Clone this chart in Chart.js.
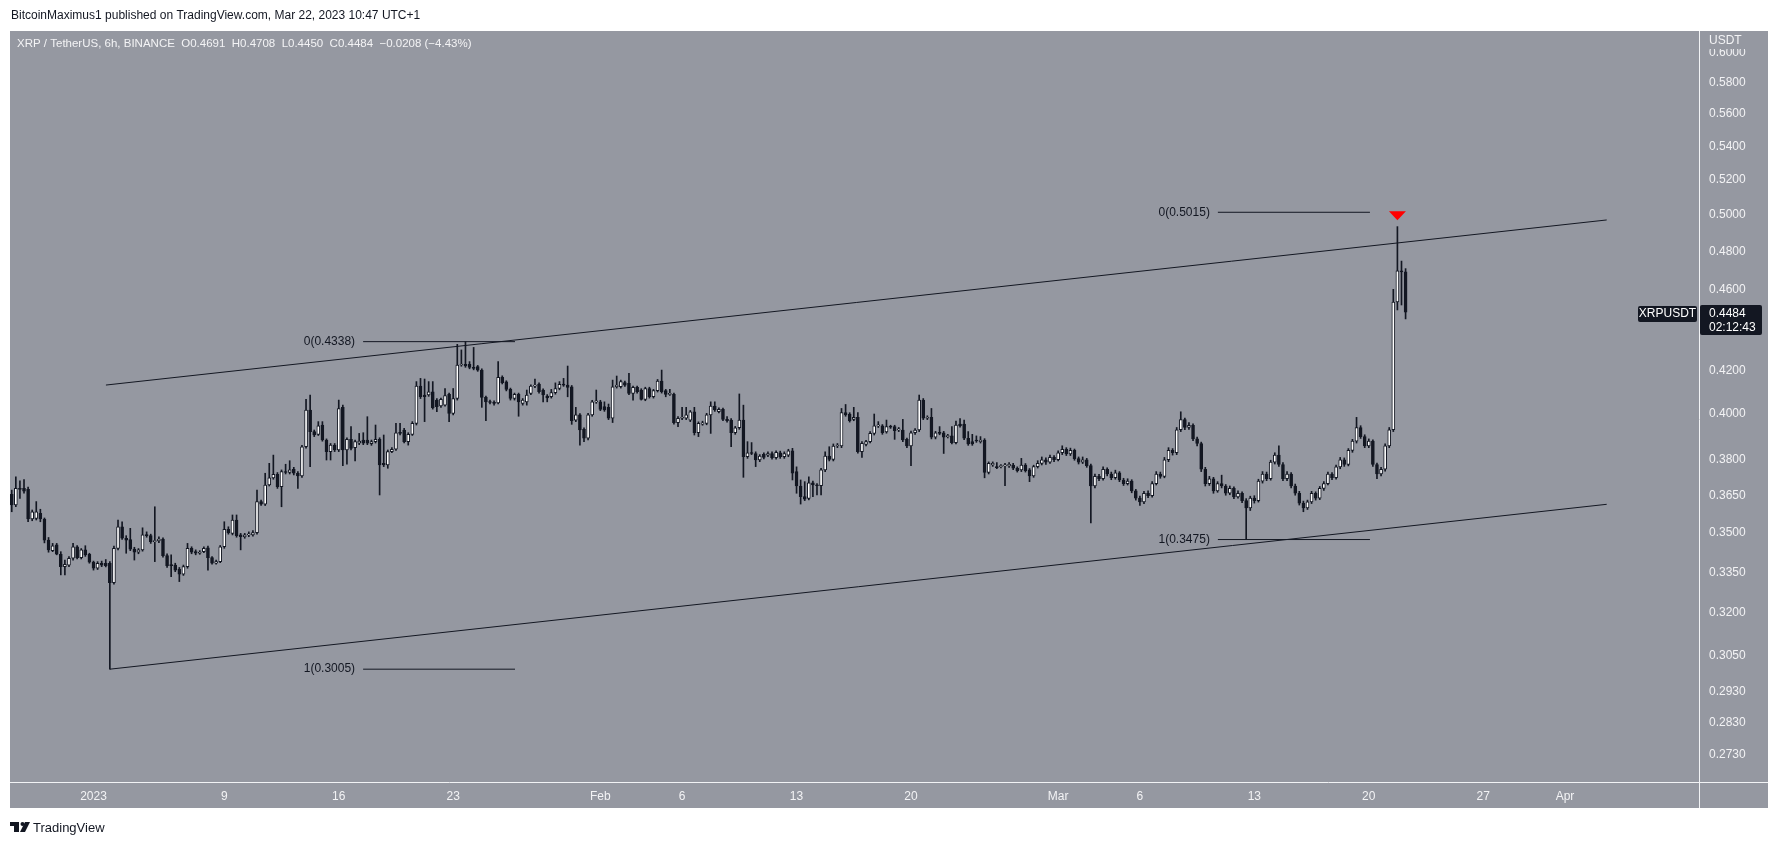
<!DOCTYPE html>
<html>
<head>
<meta charset="utf-8">
<script src="https://cdn.jsdelivr.net/npm/chart.js@4.4.0/dist/chart.umd.min.js"></script>
<style>
html,body{margin:0;padding:0;background:#fff;}
canvas{display:block;}
</style>
</head>
<body>
<canvas id="chart" width="1777" height="845"></canvas>
<script>
// XRP / TetherUS 6h candles, first bar opens Dec 27 2022 00:00 (day -5 counted from Jan 1)
var firstBarDay = -5;
var barDays = 0.25;

var opens = [
  0.3656,0.3612,0.3680,0.3680,0.3676,0.3556,0.3558,0.3579,0.3556,0.3473,
  0.3432,0.3454,0.3418,0.3371,0.3377,0.3403,0.3447,0.3405,0.3435,0.3418,
  0.3388,0.3365,0.3384,0.3384,0.3384,0.3311,0.3441,0.3525,0.3480,0.3475,
  0.3438,0.3426,0.3435,0.3493,0.3490,0.3467,0.3470,0.3477,0.3413,0.3377,
  0.3377,0.3362,0.3343,0.3371,0.3441,0.3428,0.3422,0.3428,0.3443,0.3405,
  0.3384,0.3390,0.3447,0.3515,0.3499,0.3552,0.3493,0.3486,0.3493,0.3493,
  0.3502,0.3626,0.3616,0.3694,0.3724,0.3739,0.3687,0.3750,0.3746,0.3760,
  0.3743,0.3732,0.3856,0.4018,0.3922,0.3910,0.3951,0.3885,0.3835,0.3863,
  0.3842,0.4030,0.3842,0.3888,0.3852,0.3871,0.3885,0.3885,0.3869,0.3878,
  0.3888,0.3785,0.3778,0.3835,0.3845,0.3917,0.3929,0.3878,0.3910,0.3958,
  0.4127,0.4086,0.4086,0.4101,0.4063,0.4036,0.4040,0.4089,0.4003,0.4070,
  0.4226,0.4229,0.4229,0.4215,0.4218,0.4202,0.4075,0.4055,0.4052,0.4050,
  0.4168,0.4147,0.4112,0.4070,0.4089,0.4048,0.4055,0.4094,0.4127,0.4136,
  0.4109,0.4081,0.4078,0.4097,0.4116,0.4135,0.4132,0.4124,0.3973,0.3996,
  0.3932,0.3893,0.3996,0.4055,0.4055,0.4033,0.4030,0.3981,0.4124,0.4124,
  0.4143,0.4140,0.4094,0.4121,0.4109,0.4066,0.4116,0.4078,0.4106,0.4151,
  0.4106,0.4089,0.4089,0.3961,0.3981,0.3981,0.3973,0.4010,0.3917,0.3955,
  0.3958,0.3996,0.4036,0.4010,0.4021,0.3976,0.3973,0.3917,0.3939,0.3973,
  0.3813,0.3830,0.3827,0.3799,0.3823,0.3820,0.3827,0.3809,0.3830,0.3813,
  0.3820,0.3838,0.3750,0.3690,0.3646,0.3639,0.3703,0.3694,0.3691,0.3757,
  0.3816,0.3802,0.3859,0.3859,0.4006,0.4000,0.3976,0.3985,0.3835,0.3866,
  0.3878,0.3914,0.3947,0.3947,0.3921,0.3944,0.3944,0.3929,0.3929,0.3888,
  0.3859,0.3917,0.3929,0.4063,0.3981,0.3985,0.3897,0.3917,0.3917,0.3900,
  0.3903,0.3874,0.3955,0.3955,0.3893,0.3878,0.3885,0.3878,0.3885,0.3746,
  0.3778,0.3771,0.3771,0.3774,0.3774,0.3778,0.3764,0.3757,0.3778,0.3757,
  0.3732,0.3771,0.3785,0.3800,0.3790,0.3810,0.3800,0.3830,0.3845,0.3825,
  0.3840,0.3805,0.3790,0.3800,0.3775,0.3690,0.3730,0.3720,0.3760,0.3740,
  0.3725,0.3745,0.3715,0.3700,0.3710,0.3670,0.3640,0.3625,0.3660,0.3650,
  0.3700,0.3740,0.3730,0.3800,0.3840,0.3830,0.3930,0.3975,0.3940,0.3950,
  0.3890,0.3870,0.3760,0.3700,0.3720,0.3670,0.3700,0.3690,0.3660,0.3680,
  0.3645,0.3660,0.3630,0.3600,0.3640,0.3630,0.3710,0.3740,0.3720,0.3790,
  0.3820,0.3780,0.3720,0.3740,0.3690,0.3660,0.3620,0.3600,0.3625,0.3660,
  0.3640,0.3680,0.3700,0.3740,0.3725,0.3770,0.3800,0.3780,0.3840,0.3880,
  0.3940,0.3900,0.3860,0.3880,0.3780,0.3740,0.3760,0.3860,0.3930,0.4535,
  0.4697,0.4691
];
var highs = [
  0.3673,0.3728,0.3711,0.3717,0.3685,0.3592,0.3626,0.3595,0.3560,0.3483,
  0.3460,0.3460,0.3428,0.3396,0.3409,0.3460,0.3452,0.3440,0.3451,0.3422,
  0.3392,0.3390,0.3392,0.3398,0.3390,0.3450,0.3552,0.3545,0.3490,0.3519,
  0.3445,0.3440,0.3521,0.3505,0.3496,0.3605,0.3486,0.3482,0.3420,0.3416,
  0.3384,0.3368,0.3377,0.3460,0.3447,0.3435,0.3432,0.3447,0.3450,0.3409,
  0.3396,0.3452,0.3545,0.3525,0.3572,0.3572,0.3499,0.3499,0.3505,0.3510,
  0.3673,0.3632,0.3743,0.3785,0.3820,0.3746,0.3757,0.3781,0.3796,0.3768,
  0.3750,0.3862,0.4066,0.4086,0.3929,0.3966,0.3966,0.3890,0.3870,0.3870,
  0.4063,0.4040,0.3895,0.3944,0.3885,0.3914,0.3917,0.3988,0.3885,0.3951,
  0.3895,0.3907,0.3842,0.3852,0.3958,0.3958,0.3936,0.3917,0.3966,0.4148,
  0.4163,0.4160,0.4148,0.4148,0.4070,0.4072,0.4116,0.4095,0.4116,0.4325,
  0.4298,0.4338,0.4242,0.4310,0.4224,0.4208,0.4081,0.4063,0.4060,0.4242,
  0.4175,0.4152,0.4118,0.4095,0.4095,0.4070,0.4109,0.4133,0.4160,0.4142,
  0.4115,0.4088,0.4112,0.4142,0.4148,0.4163,0.4221,0.4130,0.4030,0.4002,
  0.3938,0.4003,0.4062,0.4109,0.4062,0.4055,0.4045,0.4155,0.4174,0.4155,
  0.4150,0.4187,0.4127,0.4127,0.4115,0.4122,0.4122,0.4112,0.4158,0.4202,
  0.4112,0.4112,0.4095,0.3988,0.4030,0.4030,0.4016,0.4030,0.3965,0.3968,
  0.4003,0.4055,0.4055,0.4028,0.4027,0.3988,0.3980,0.3945,0.4091,0.4040,
  0.3878,0.3874,0.3834,0.3822,0.3830,0.3834,0.3834,0.3838,0.3837,0.3834,
  0.3845,0.3849,0.3770,0.3715,0.3708,0.3728,0.3710,0.3700,0.3764,0.3834,
  0.3856,0.3868,0.3870,0.4025,0.4043,0.4006,0.4030,0.4006,0.3878,0.3884,
  0.3922,0.4000,0.3966,0.3953,0.3973,0.3950,0.3950,0.3940,0.3976,0.3894,
  0.3924,0.3935,0.4086,0.4070,0.3992,0.4025,0.3923,0.3944,0.3923,0.3910,
  0.3944,0.3969,0.3980,0.3973,0.3922,0.3910,0.3903,0.3900,0.3891,0.3791,
  0.3791,0.3788,0.3780,0.3785,0.3788,0.3785,0.3770,0.3806,0.3784,0.3763,
  0.3777,0.3796,0.3812,0.3808,0.3820,0.3818,0.3838,0.3860,0.3852,0.3850,
  0.3846,0.3812,0.3812,0.3806,0.3782,0.3740,0.3738,0.3770,0.3766,0.3748,
  0.3756,0.3750,0.3722,0.3720,0.3716,0.3676,0.3648,0.3668,0.3670,0.3708,
  0.3750,0.3748,0.3810,0.3852,0.3848,0.3940,0.4010,0.3982,0.3962,0.3956,
  0.3898,0.3876,0.3768,0.3730,0.3726,0.3708,0.3735,0.3696,0.3690,0.3686,
  0.3670,0.3666,0.3638,0.3648,0.3650,0.3718,0.3750,0.3748,0.3798,0.3830,
  0.3860,0.3788,0.3750,0.3746,0.3698,0.3668,0.3628,0.3632,0.3668,0.3666,
  0.3688,0.3708,0.3748,0.3746,0.3778,0.3810,0.3808,0.3848,0.3888,0.3985,
  0.3948,0.3908,0.3890,0.3886,0.3786,0.3768,0.3868,0.3940,0.4600,0.4935,
  0.4748,0.4708
];
var lows = [
  0.3585,0.3605,0.3639,0.3660,0.3545,0.3549,0.3552,0.3545,0.3462,0.3426,
  0.3428,0.3416,0.3340,0.3340,0.3371,0.3396,0.3400,0.3400,0.3410,0.3384,
  0.3358,0.3360,0.3371,0.3370,0.3005,0.3305,0.3435,0.3475,0.3422,0.3432,
  0.3396,0.3420,0.3430,0.3484,0.3460,0.3390,0.3463,0.3407,0.3368,0.3333,
  0.3352,0.3315,0.3338,0.3365,0.3420,0.3416,0.3418,0.3424,0.3358,0.3380,
  0.3380,0.3386,0.3441,0.3496,0.3493,0.3484,0.3435,0.3480,0.3486,0.3488,
  0.3496,0.3610,0.3610,0.3690,0.3718,0.3680,0.3605,0.3740,0.3740,0.3736,
  0.3680,0.3726,0.3850,0.3771,0.3900,0.3905,0.3880,0.3799,0.3799,0.3835,
  0.3835,0.3775,0.3781,0.3842,0.3795,0.3865,0.3865,0.3865,0.3862,0.3872,
  0.3653,0.3771,0.3764,0.3830,0.3840,0.3907,0.3872,0.3863,0.3905,0.3951,
  0.4070,0.3966,0.4080,0.4022,0.4010,0.4030,0.4035,0.3966,0.3996,0.4063,
  0.4220,0.4215,0.4208,0.4203,0.4196,0.4030,0.3970,0.4045,0.4040,0.4045,
  0.4137,0.4105,0.4063,0.4063,0.3990,0.4040,0.4040,0.4088,0.4120,0.4095,
  0.4055,0.4055,0.4072,0.4090,0.4110,0.4126,0.4078,0.3954,0.3966,0.3863,
  0.3878,0.3885,0.3990,0.4048,0.4015,0.4012,0.3975,0.3962,0.4118,0.4118,
  0.4126,0.4088,0.4063,0.4095,0.4063,0.4060,0.4072,0.4072,0.4100,0.4095,
  0.4078,0.4084,0.3955,0.3944,0.3975,0.3975,0.3966,0.3907,0.3900,0.3950,
  0.3952,0.3914,0.4012,0.4005,0.3970,0.3964,0.3856,0.3910,0.3932,0.3726,
  0.3806,0.3822,0.3771,0.3792,0.3804,0.3813,0.3803,0.3803,0.3806,0.3806,
  0.3813,0.3715,0.3660,0.3616,0.3630,0.3633,0.3646,0.3653,0.3653,0.3750,
  0.3795,0.3795,0.3852,0.3852,0.3990,0.3964,0.3970,0.3828,0.3810,0.3860,
  0.3872,0.3907,0.3940,0.3910,0.3915,0.3936,0.3888,0.3922,0.3878,0.3852,
  0.3775,0.3910,0.3922,0.3975,0.3975,0.3890,0.3890,0.3908,0.3827,0.3894,
  0.3868,0.3868,0.3941,0.3887,0.3862,0.3862,0.3875,0.3872,0.3724,0.3740,
  0.3772,0.3762,0.3765,0.3691,0.3768,0.3758,0.3748,0.3750,0.3748,0.3708,
  0.3726,0.3765,0.3778,0.3780,0.3784,0.3792,0.3795,0.3822,0.3818,0.3818,
  0.3798,0.3782,0.3784,0.3768,0.3540,0.3682,0.3712,0.3714,0.3732,0.3716,
  0.3718,0.3708,0.3692,0.3694,0.3662,0.3632,0.3610,0.3618,0.3642,0.3644,
  0.3694,0.3722,0.3724,0.3792,0.3820,0.3822,0.3922,0.3930,0.3932,0.3882,
  0.3860,0.3750,0.3690,0.3692,0.3660,0.3664,0.3682,0.3652,0.3654,0.3638,
  0.3640,0.3622,0.3478,0.3590,0.3620,0.3624,0.3702,0.3712,0.3714,0.3782,
  0.3772,0.3712,0.3712,0.3682,0.3652,0.3612,0.3585,0.3594,0.3618,0.3632,
  0.3634,0.3672,0.3694,0.3716,0.3718,0.3762,0.3772,0.3774,0.3832,0.3872,
  0.3892,0.3852,0.3852,0.3772,0.3720,0.3732,0.3752,0.3852,0.3922,0.4495,
  0.4520,0.4450
];
var closes = [
  0.3612,0.3680,0.3676,0.3669,0.3556,0.3585,0.3585,0.3556,0.3473,0.3435,
  0.3451,0.3418,0.3371,0.3380,0.3403,0.3447,0.3405,0.3435,0.3416,0.3388,
  0.3365,0.3384,0.3377,0.3375,0.3311,0.3441,0.3525,0.3480,0.3473,0.3438,
  0.3426,0.3435,0.3493,0.3490,0.3467,0.3470,0.3477,0.3413,0.3375,0.3375,
  0.3358,0.3343,0.3371,0.3441,0.3426,0.3422,0.3426,0.3441,0.3405,0.3384,
  0.3390,0.3447,0.3515,0.3502,0.3552,0.3490,0.3486,0.3493,0.3496,0.3502,
  0.3626,0.3616,0.3694,0.3724,0.3739,0.3687,0.3750,0.3746,0.3757,0.3743,
  0.3732,0.3856,0.4018,0.3922,0.3907,0.3947,0.3885,0.3835,0.3863,0.3842,
  0.4025,0.3842,0.3888,0.3849,0.3878,0.3881,0.3871,0.3871,0.3878,0.3888,
  0.3778,0.3778,0.3835,0.3845,0.3917,0.3914,0.3878,0.3910,0.3958,0.4127,
  0.4078,0.4078,0.4101,0.4029,0.4033,0.4066,0.4083,0.4003,0.4070,0.4226,
  0.4229,0.4222,0.4215,0.4210,0.4202,0.4075,0.4055,0.4052,0.4048,0.4168,
  0.4143,0.4112,0.4070,0.4089,0.4055,0.4063,0.4086,0.4127,0.4132,0.4101,
  0.4086,0.4073,0.4097,0.4116,0.4135,0.4132,0.4121,0.3970,0.3996,0.3929,
  0.3893,0.3996,0.4055,0.4058,0.4021,0.4018,0.3981,0.4124,0.4132,0.4148,
  0.4132,0.4094,0.4121,0.4101,0.4066,0.4116,0.4078,0.4106,0.4151,0.4101,
  0.4089,0.4094,0.3961,0.3981,0.3985,0.3996,0.4010,0.3917,0.3958,0.3961,
  0.3996,0.4036,0.4018,0.4021,0.3976,0.3970,0.3917,0.3939,0.3973,0.3813,
  0.3830,0.3827,0.3799,0.3816,0.3810,0.3827,0.3809,0.3832,0.3813,0.3827,
  0.3838,0.3743,0.3690,0.3646,0.3636,0.3703,0.3694,0.3691,0.3757,0.3816,
  0.3802,0.3859,0.3863,0.4006,0.3996,0.3970,0.3985,0.3835,0.3871,0.3878,
  0.3914,0.3947,0.3951,0.3917,0.3944,0.3941,0.3926,0.3934,0.3885,0.3859,
  0.3917,0.3929,0.4063,0.3981,0.3985,0.3897,0.3917,0.3914,0.3897,0.3903,
  0.3874,0.3951,0.3947,0.3893,0.3868,0.3868,0.3881,0.3885,0.3746,0.3785,
  0.3785,0.3767,0.3774,0.3778,0.3781,0.3764,0.3754,0.3778,0.3754,0.3732,
  0.3771,0.3785,0.3800,0.3790,0.3810,0.3800,0.3830,0.3845,0.3825,0.3840,
  0.3805,0.3790,0.3800,0.3775,0.3690,0.3730,0.3720,0.3760,0.3740,0.3725,
  0.3745,0.3715,0.3700,0.3710,0.3670,0.3640,0.3625,0.3660,0.3650,0.3700,
  0.3740,0.3730,0.3800,0.3840,0.3830,0.3930,0.3975,0.3940,0.3950,0.3890,
  0.3870,0.3760,0.3700,0.3720,0.3670,0.3700,0.3690,0.3660,0.3680,0.3645,
  0.3660,0.3630,0.3600,0.3640,0.3630,0.3710,0.3740,0.3720,0.3790,0.3820,
  0.3780,0.3720,0.3740,0.3690,0.3660,0.3620,0.3600,0.3625,0.3660,0.3640,
  0.3680,0.3700,0.3740,0.3725,0.3770,0.3800,0.3780,0.3840,0.3880,0.3940,
  0.3900,0.3860,0.3880,0.3780,0.3740,0.3760,0.3860,0.3930,0.4535,0.4697,
  0.4691,0.4484
];

// axis ticks
var priceTicks = [0.2730,0.2830,0.2930,0.3050,0.3200,0.3350,0.3500,0.3650,0.3800,0.4000,
                  0.4200,0.4600,0.4800,0.5000,0.5200,0.5400,0.5600,0.5800,0.6000];
var dayTicks = [0, 8, 15, 22, 31, 36, 43, 50, 59, 64, 71, 78, 85, 90];
var dayLabels = ['2023','9','16','23','Feb','6','13','20','Mar','6','13','20','27','Apr'];

// channel lines drawn on the chart: [day, price]
var upperChannel = [[0.76, 0.4132], [92.55, 0.4972]];
var lowerChannel = [[1.0, 0.3005], [92.55, 0.3615]];

// fib retracement levels
var fibLabels = ['0(0.4338)', '1(0.3005)', '0(0.5015)', '1(0.3475)'];
var fibPrices = [0.4338, 0.3005, 0.5015, 0.3475];
var fibStart = [16.49, 16.49, 68.77, 68.77];
var fibEnd = [25.78, 25.78, 78.07, 78.07];

var arrowBar = 339;      // red marker above the spike bar
var arrowPrice = 0.5015;
var lastPrice = 0.4484;

var GRAY = '#9598a1';
var INK = '#131722';
var LABEL = '#f3f3f5';
var FONT = '"Liberation Sans", Arial, sans-serif';

var xs = opens.map(function (o, i) { return firstBarDay + i * barDays; });
var bodies = opens.map(function (o, i) { return { x: xs[i], y: [o, closes[i]] }; });
var wicks = opens.map(function (o, i) { return { x: xs[i], y: [lows[i], highs[i]] }; });
var bodyColors = opens.map(function (o, i) { return closes[i] >= o ? '#ffffff' : INK; });

function seg(pts) {
  return pts.map(function (p) { return { x: p[0], y: p[1] }; });
}

var datasets = [
  { type: 'bar', data: bodies, backgroundColor: bodyColors, borderColor: INK, borderWidth: 1,
    borderSkipped: false, barThickness: 3, minBarLength: 1, grouped: false, order: 0 },
  { type: 'bar', data: wicks, backgroundColor: INK, borderWidth: 0,
    barThickness: 1, grouped: false, order: 1 },
  { type: 'line', data: seg(upperChannel), borderColor: INK, borderWidth: 1, pointRadius: 0, order: 2 },
  { type: 'line', data: seg(lowerChannel), borderColor: INK, borderWidth: 1, pointRadius: 0, order: 2 }
];
fibPrices.forEach(function (p, k) {
  datasets.push({ type: 'line', data: [{ x: fibStart[k], y: p }, { x: fibEnd[k], y: p }],
    borderColor: INK, borderWidth: 1, pointRadius: 0, order: 2 });
});

var tvDecor = {
  id: 'tvDecor',
  beforeDraw: function (chart) {
    var c = chart.ctx, a = chart.chartArea;
    var ys = chart.scales.y, xsc = chart.scales.x;
    c.save();
    c.fillStyle = '#ffffff';
    c.fillRect(0, 0, chart.width, chart.height);
    c.fillStyle = GRAY;
    c.fillRect(a.left, a.top, ys.right - a.left, xsc.bottom - a.top);
    c.restore();
  },
  afterDraw: function (chart) {
    var c = chart.ctx, a = chart.chartArea;
    var ys = chart.scales.y, xsc = chart.scales.x;
    c.save();

    // axis separators
    c.strokeStyle = '#f2f3f5';
    c.lineWidth = 1;
    c.beginPath();
    c.moveTo(Math.round(a.right) + 0.5, a.top);
    c.lineTo(Math.round(a.right) + 0.5, xsc.bottom);
    c.moveTo(a.left, Math.round(a.bottom) + 0.5);
    c.lineTo(ys.right, Math.round(a.bottom) + 0.5);
    c.stroke();

    // published line
    c.font = '12px ' + FONT;
    c.textBaseline = 'middle';
    c.textAlign = 'left';
    c.fillStyle = INK;
    c.fillText('BitcoinMaximus1 published on TradingView.com, Mar 22, 2023 10:47 UTC+1', 11, 16);

    // legend header
    c.fillStyle = LABEL;
    c.font = '11.5px ' + FONT;
    c.fillText('XRP / TetherUS, 6h, BINANCE  O0.4691  H0.4708  L0.4450  C0.4484  \u22120.0208 (\u22124.43%)', 17, 44);
    c.font = '12px ' + FONT;

    // fib labels
    c.fillStyle = INK;
    c.textAlign = 'right';
    fibLabels.forEach(function (t, k) {
      c.fillText(t, xsc.getPixelForValue(fibStart[k]) - 8, ys.getPixelForValue(fibPrices[k]));
    });

    // red marker
    var ax = xsc.getPixelForValue(xs[arrowBar]);
    var ay = ys.getPixelForValue(arrowPrice) - 1;
    c.fillStyle = '#ff0000';
    c.beginPath();
    c.moveTo(ax - 8.5, ay);
    c.lineTo(ax + 8.5, ay);
    c.lineTo(ax, ay + 9);
    c.closePath();
    c.fill();

    // symbol tag and last price box
    var ly = ys.getPixelForValue(lastPrice);
    c.fillStyle = INK;
    c.beginPath();
    c.roundRect(a.right - 61, ly - 6, 59, 16, 2);
    c.fill();
    c.beginPath();
    c.roundRect(a.right + 1, ly - 7, 62, 30, 2);
    c.fill();
    c.fillStyle = '#ffffff';
    c.textAlign = 'center';
    c.fillText('XRPUSDT', a.right - 31.5, ly + 2);
    c.textAlign = 'left';
    c.fillText(lastPrice.toFixed(4), a.right + 10, ly + 2);
    c.fillText('02:12:43', a.right + 10, ly + 16);

    // currency caption on top of price scale
    c.fillStyle = GRAY;
    c.fillRect(a.right + 1, a.top, ys.right - a.right - 1, 18);
    c.fillStyle = LABEL;
    c.font = '12px ' + FONT;
    c.fillText('USDT', a.right + 10, a.top + 10);

    // TradingView logo
    c.fillStyle = INK;
    c.fillRect(10, 822, 9, 4);
    c.fillRect(14, 822, 5, 10);
    c.beginPath();
    c.arc(22.5, 824, 2, 0, Math.PI * 2);
    c.fill();
    c.beginPath();
    c.moveTo(25, 822);
    c.lineTo(30, 822);
    c.lineTo(25, 832);
    c.lineTo(20, 832);
    c.closePath();
    c.fill();
    c.font = '13px ' + FONT;
    c.textAlign = 'left';
    c.fillText('TradingView', 33, 828);
    c.restore();
  }
};

new Chart(document.getElementById('chart'), {
  type: 'bar',
  data: { datasets: datasets },
  plugins: [tvDecor],
  options: {
    responsive: false,
    animation: false,
    devicePixelRatio: 1,
    events: [],
    layout: { padding: { left: 10, top: 31, right: 9, bottom: 37 } },
    plugins: { legend: { display: false }, tooltip: { enabled: false } },
    scales: {
      x: {
        type: 'linear', min: -5.107, max: 98.196, offset: false,
        grid: { display: false, drawTicks: false }, border: { display: false },
        afterBuildTicks: function (s) { s.ticks = dayTicks.map(function (v) { return { value: v }; }); },
        afterFit: function (s) { s.height = 26; },
        ticks: {
          autoSkip: false, maxRotation: 0, padding: 7, color: LABEL,
          font: { family: FONT, size: 12 },
          callback: function (v) { var k = dayTicks.indexOf(v); return k < 0 ? '' : dayLabels[k]; }
        }
      },
      y: {
        type: 'logarithmic', position: 'right', min: 0.2648, max: 0.6145,
        grid: { display: false, drawTicks: false }, border: { display: false },
        afterBuildTicks: function (s) { s.ticks = priceTicks.map(function (v) { return { value: v }; }); },
        afterFit: function (s) { s.width = 69; },
        ticks: {
          autoSkip: false, padding: 10, color: LABEL,
          font: { family: FONT, size: 12 },
          callback: function (v) { return Number(v).toFixed(4); }
        }
      }
    }
  }
});
</script>
</body>
</html>
